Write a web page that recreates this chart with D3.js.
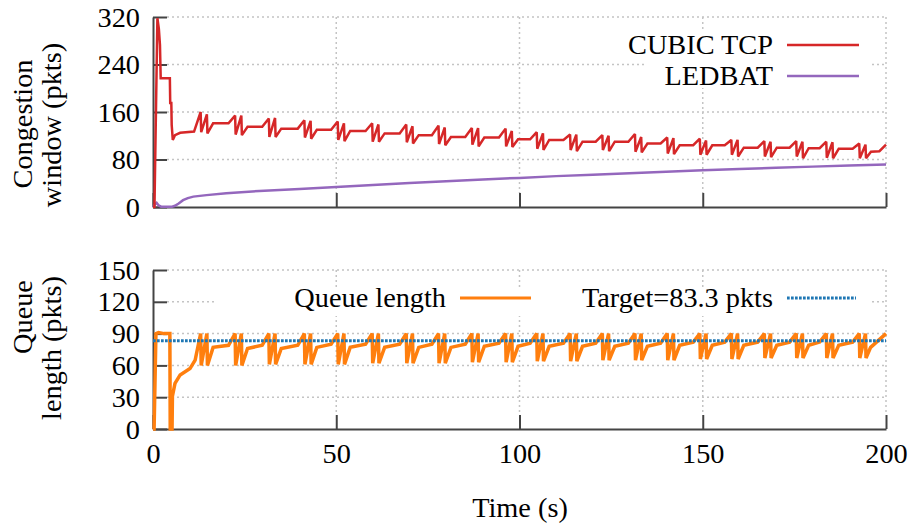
<!DOCTYPE html>
<html>
<head>
<meta charset="utf-8">
<script src="https://cdn.jsdelivr.net/npm/d3@7"></script>
<style>
  html, body { margin: 0; padding: 0; background: #fff; }
  svg { display: block; }
  text { font-family: "Liberation Serif", "Times New Roman", serif; fill: #000; }
</style>
</head>
<body>
<svg id="chart" width="910" height="523"></svg>
<script>
// ---- data -------------------------------------------------------------
const timeTicks = [0, 50, 100, 150, 200];
const cwndTicks = [0, 80, 160, 240, 320];
const queueTicks = [0, 30, 60, 90, 120, 150];
const cwndSeries = ["CUBIC TCP", "LEDBAT"];
const queueSeries = ["Queue length", "Target=83.3 pkts"];
const targetQueue = 83.3;

// congestion window of the CUBIC TCP flow, [time s, pkts]
const cubicTrace = [
  [0,0],[0.4,0],[1.2,318],[1.6,300],[1.9,273],[2.1,217],[4.6,217],[4.7,175],[5.0,175],[5.1,138],[5.4,113],[6.0,121],[7.4,125],[11.2,127],
  [13.0,160],[13.15,126],[14.7,156],[14.85,124],[16.4,141],
  [20.6,141],[22.4,154],[22.55,122],[24.1,154],[24.25,121],[25.8,135],
  [29.8,135],[31.6,149],[31.75,118],[33.3,150],[33.45,118],[35.0,132],
  [39.5,132],[41.3,146],[41.45,117],[43.0,145],[43.15,115],[44.7,130],
  [48.6,130],[50.4,144],[50.55,113],[52.1,141],[52.25,111],[53.8,128],
  [58.0,128],[59.8,141],[59.95,110],[61.5,139],[61.65,110],[63.2,124],
  [67.3,124],[69.1,139],[69.25,109],[70.8,136],[70.95,107],[72.5,121],
  [76.1,121],[77.9,137],[78.05,106],[79.6,134],[79.75,104],[81.3,118],
  [85.2,118],[87.0,133],[87.15,105],[88.7,133],[88.85,102],[90.4,117],
  [94.4,117],[96.2,132],[96.35,102],[97.9,128],[98.05,101],[99.6,114],
  [102.9,114],[104.7,126],[104.85,98],[106.4,124],[106.55,96],[108.1,113],
  [112.0,113],[113.8,122],[113.95,96],[115.5,122],[115.65,94],[117.2,110],
  [120.8,110],[122.6,121],[122.75,96],[124.3,120],[124.45,94],[126.0,110],
  [129.7,110],[131.5,123],[131.65,93],[133.2,118],[133.35,92],[134.9,107],
  [138.5,107],[140.3,117],[140.45,90],[142.0,116],[142.15,89],[143.7,104],
  [147.4,104],[149.2,115],[149.35,88],[150.9,112],[151.05,88],[152.6,104],
  [156.0,104],[157.8,113],[157.95,88],[159.5,113],[159.65,85],[161.2,100],
  [165.0,100],[166.8,111],[166.95,85],[168.5,110],[168.65,84],[170.2,100],
  [173.7,100],[175.5,111],[175.65,85],[177.2,110],[177.35,82],[178.9,99],
  [181.9,99],[183.7,110],[183.85,83],[185.4,109],[185.55,82],[187.1,98],
  [190.9,98],[192.7,107],[192.85,82],[194.4,105],[194.55,82],[195.9,93],
  [198.2,94],[200,105]
];

// congestion window of the LEDBAT flow, [time s, pkts]
const ledbatTrace = [
  [0,0],[0.5,4],[1.0,7],[1.5,3],[2.2,0.5],[5.2,0.5],[6.0,2],[7.0,6],[8.2,11.5],[9.5,15],[11,17.5],[14.6,20],
  [20,23],[29,27],[40,30.5],[50,33.7],[60,37],[70,40.5],[80,43.5],[90,46.5],[100,49],[110,52],
  [120,54.5],[130,57],[140,59.5],[150,62],[160,64],[170,66],[180,68],[190,70],[200,71.5]
];

// bottleneck queue length, [time s, pkts]
const queueTrace = [
  [0,0],[0.3,0],[0.8,90],[1.5,91],[3.0,90],[4.6,90],[4.7,0],[5.2,0],[5.3,31],[6.0,43],[7.4,51],[10.1,57],[11.5,65],
  [13.0,90],[13.15,60],[14.7,90],[14.85,60],[16.4,77],
  [20.6,79],[22.4,90],[22.55,60],[24.1,90],[24.25,60],[25.8,76],
  [29.8,79],[31.6,90],[31.75,61],[33.3,90],[33.45,61],[35.0,76],
  [39.5,79],[41.3,90],[41.45,61],[43.0,90],[43.15,61],[44.7,77],
  [48.6,80],[50.4,90],[50.55,61],[52.1,90],[52.25,61],[53.8,77],
  [58.0,80],[59.8,90],[59.95,62],[61.5,90],[61.65,62],[63.2,77],
  [67.3,80],[69.1,90],[69.25,62],[70.8,90],[70.95,62],[72.5,77],
  [76.1,80],[77.9,90],[78.05,62],[79.6,90],[79.75,62],[81.3,77],
  [85.2,80],[87.0,90],[87.15,63],[88.7,90],[88.85,63],[90.4,78],
  [94.4,81],[96.2,90],[96.35,63],[97.9,90],[98.05,63],[99.6,78],
  [102.9,81],[104.7,90],[104.85,64],[106.4,90],[106.55,64],[108.1,78],
  [112.0,81],[113.8,90],[113.95,64],[115.5,90],[115.65,64],[117.2,78],
  [120.8,81],[122.6,90],[122.75,65],[124.3,90],[124.45,65],[126.0,78],
  [129.7,81],[131.5,90],[131.65,65],[133.2,90],[133.35,65],[134.9,78],
  [138.5,81],[140.3,90],[140.45,65],[142.0,90],[142.15,65],[143.7,79],
  [147.4,82],[149.2,90],[149.35,66],[150.9,90],[151.05,66],[152.6,79],
  [156.0,82],[157.8,90],[157.95,66],[159.5,90],[159.65,66],[161.2,79],
  [165.0,82],[166.8,90],[166.95,67],[168.5,90],[168.65,67],[170.2,79],
  [173.7,82],[175.5,90],[175.65,67],[177.2,90],[177.35,67],[178.9,79],
  [181.9,82],[183.7,90],[183.85,67],[185.4,90],[185.55,67],[187.1,79],
  [190.9,82],[192.7,90],[192.85,67],[194.4,90],[194.55,67],[195.8,77],
  [200,90]
];

// ---- drawing ----------------------------------------------------------
const FONT = 28.3;
const TICK = 14;
const AXIS_COLOR = "#444";
const GRID_COLOR = "#c4c4c4";
const COLORS = { cubic: "#d62728", ledbat: "#9467bd", queue: "#ff7f0e", target: "#1f77b4" };

const svg = d3.select("#chart");

const x = d3.scaleLinear().domain([0, 200]).range([153, 886]);
const yCwnd = d3.scaleLinear().domain([0, 320]).range([207, 17]);
const yQueue = d3.scaleLinear().domain([0, 150]).range([429, 270]);

function drawGrid(y, ticks) {
  const g = svg.append("g").attr("class", "grid")
    .attr("stroke", GRID_COLOR).attr("stroke-width", 1.5).attr("stroke-dasharray", "2,3");
  const [y0, y1] = y.range();
  g.selectAll("line.h").data(ticks.filter(d => d > 0)).join("line").attr("class", "h")
    .attr("x1", x(0) + TICK).attr("x2", x(200))
    .attr("y1", d => y(d)).attr("y2", d => y(d));
  g.selectAll("line.v").data(timeTicks.filter(d => d > 0)).join("line").attr("class", "v")
    .attr("x1", d => x(d)).attr("x2", d => x(d))
    .attr("y1", y1).attr("y2", y0 - TICK);
}

function styleAxis(g) {
  g.select(".domain").attr("stroke", AXIS_COLOR).attr("stroke-width", 2);
  g.selectAll(".tick line").attr("stroke", AXIS_COLOR).attr("stroke-width", 2);
  g.selectAll(".tick text").attr("font-size", FONT).attr("fill", "#000")
    .attr("font-family", "Liberation Serif, Times New Roman, serif");
}

function drawAxes(y, ticks, withTimeLabels) {
  const left = d3.axisLeft(y).tickValues(ticks).tickSizeInner(-TICK).tickSizeOuter(0).tickPadding(13);
  svg.append("g").attr("transform", `translate(${x(0)},0)`).call(left).call(styleAxis);
  const bottom = d3.axisBottom(x).tickValues(timeTicks).tickSizeInner(-TICK).tickSizeOuter(0).tickPadding(14);
  if (!withTimeLabels) bottom.tickFormat(() => "");
  svg.append("g").attr("transform", `translate(0,${y.range()[0]})`).call(bottom).call(styleAxis);
}

function legendBox(x0, y0, x1, y1) {
  svg.append("rect").attr("x", x0).attr("y", y0).attr("width", x1 - x0).attr("height", y1 - y0)
    .attr("fill", "#fff");
}

function drawTrace(data, y, color, width) {
  const line = d3.line().x(d => x(d[0])).y(d => y(d[1]));
  svg.append("path").datum(data).attr("d", line)
    .attr("fill", "none").attr("stroke", color).attr("stroke-width", width)
    .attr("stroke-linejoin", "miter").attr("stroke-miterlimit", 2);
}

function legendEntry(label, textRight, baseline, sx0, sx1, sy, color, width, dash) {
  svg.append("text").attr("x", textRight).attr("y", baseline)
    .attr("text-anchor", "end").attr("font-size", FONT).text(label);
  const l = svg.append("line").attr("x1", sx0).attr("x2", sx1).attr("y1", sy).attr("y2", sy)
    .attr("stroke", color).attr("stroke-width", width);
  if (dash) l.attr("stroke-dasharray", dash);
}

// top panel: congestion windows
drawGrid(yCwnd, cwndTicks);
legendBox(645, 30, 870, 88);
drawAxes(yCwnd, cwndTicks, false);
drawTrace(ledbatTrace, yCwnd, COLORS.ledbat, 2.5);
drawTrace(cubicTrace, yCwnd, COLORS.cubic, 2.5);
legendEntry(cwndSeries[0], 773, 54, 787, 859, 45, COLORS.cubic, 2.5);
legendEntry(cwndSeries[1], 773, 85, 787, 859, 76, COLORS.ledbat, 2.5);

// bottom panel: queue length
drawGrid(yQueue, queueTicks);
legendBox(215, 287, 870, 316);
drawAxes(yQueue, queueTicks, true);
drawTrace(queueTrace, yQueue, COLORS.queue, 3.5);
svg.append("line")
  .attr("x1", x(0)).attr("x2", x(200))
  .attr("y1", yQueue(targetQueue)).attr("y2", yQueue(targetQueue))
  .attr("stroke", COLORS.target).attr("stroke-width", 3).attr("stroke-dasharray", "2.7,1.3");
legendEntry(queueSeries[0], 446, 307, 460, 531, 298, COLORS.queue, 3);
legendEntry(queueSeries[1], 773, 307, 787, 856, 298, COLORS.target, 3, "2.7,1.3");

// axis titles
function vTitle(label, cx, cy) {
  svg.append("text").attr("transform", `translate(${cx},${cy}) rotate(-90)`)
    .attr("text-anchor", "middle").attr("dy", "0.35em").attr("font-size", FONT).text(label);
}
vTitle("Congestion", 22, 124);
vTitle("window (pkts)", 51, 125);
vTitle("Queue", 22, 317);
vTitle("length (pkts)", 51, 348);

svg.append("text").attr("x", 520).attr("y", 507).attr("dy", "0.35em")
  .attr("text-anchor", "middle").attr("font-size", FONT).text("Time (s)");
</script>
</body>
</html>
